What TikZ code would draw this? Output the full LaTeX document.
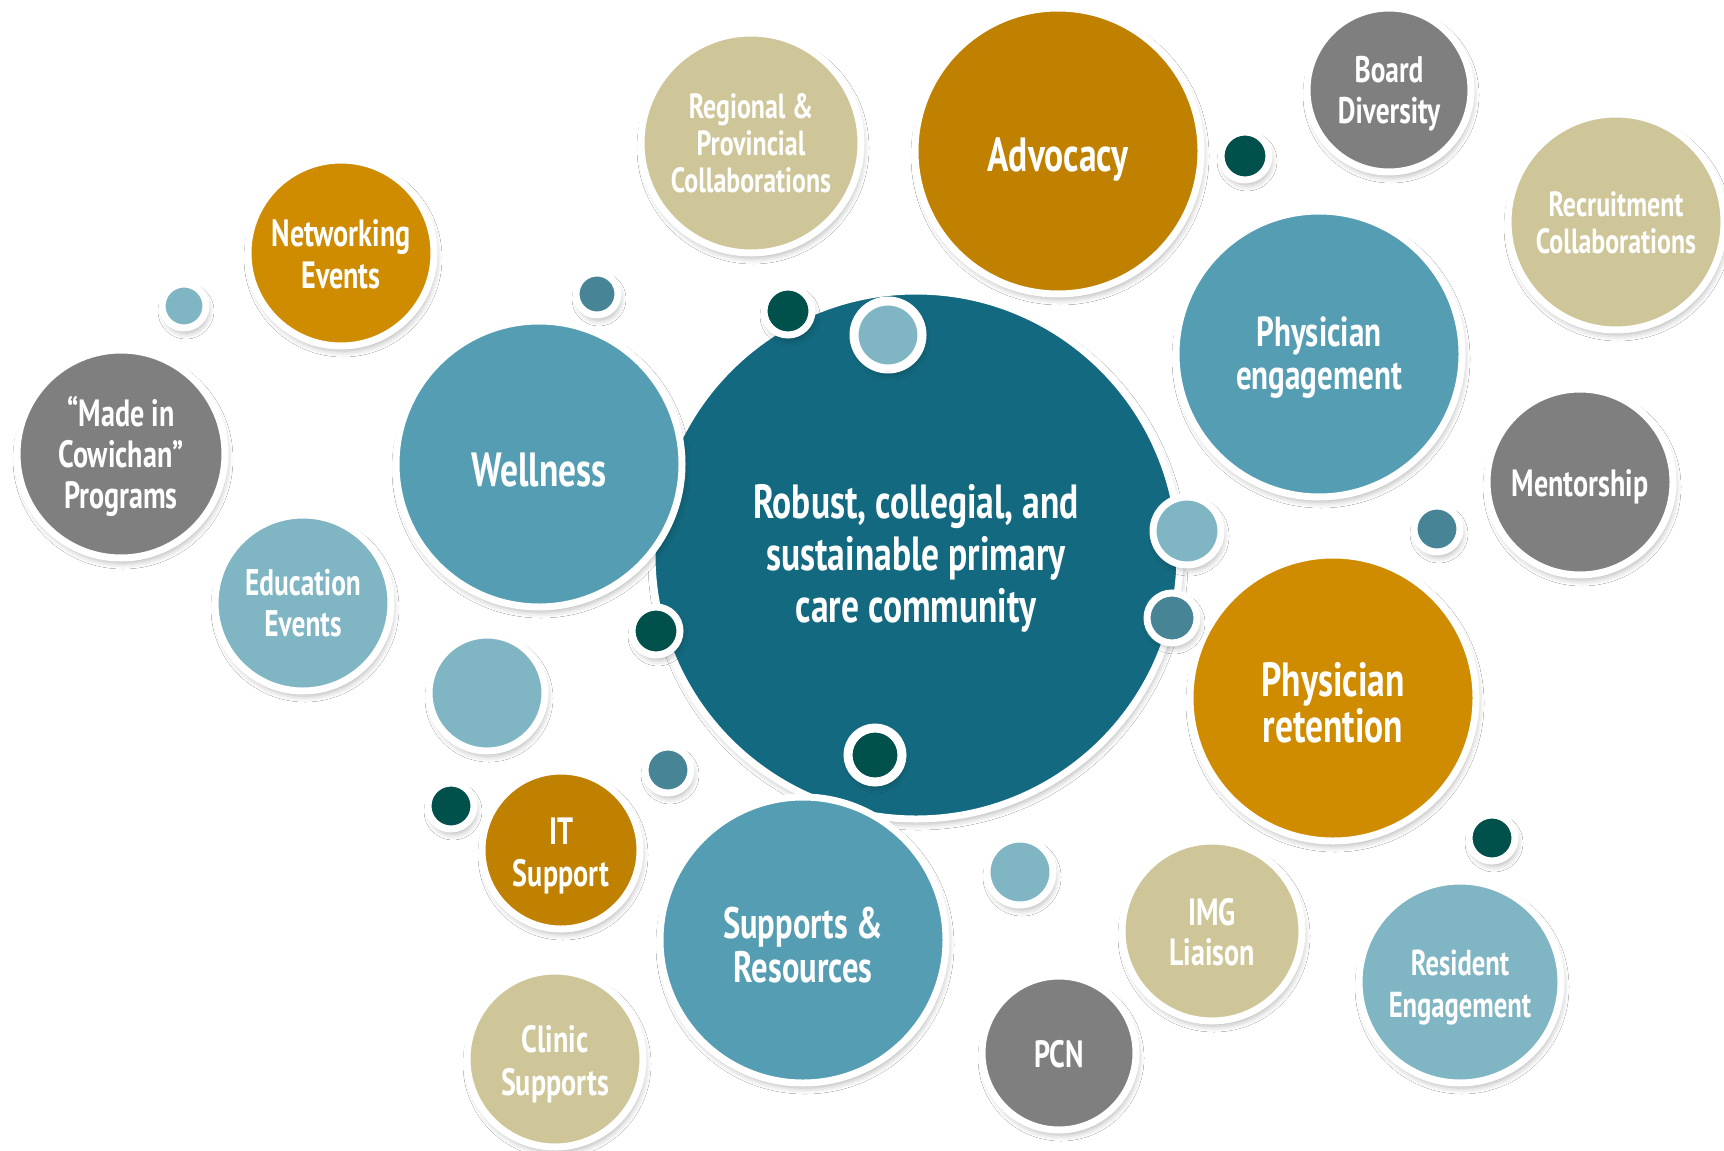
\documentclass[tikz,border=0pt]{standalone}
\usepackage{fontspec}
\setmainfont{PT Sans}[FakeStretch=0.74]
\usetikzlibrary{shadows.blur}
\definecolor{coreblue}{RGB}{19,106,128}
\definecolor{midblue}{RGB}{85,157,178}
\definecolor{lightblue}{RGB}{128,181,196}
\definecolor{golddark}{RGB}{192,128,0}
\definecolor{goldlight}{RGB}{208,140,0}
\definecolor{beige}{RGB}{206,198,153}
\definecolor{greyc}{RGB}{127,127,127}
\definecolor{deepgreen}{RGB}{0,80,76}
\definecolor{dotblue}{RGB}{70,132,150}
\newcommand\fsz[2]{\fontsize{#1}{#2}\selectfont\bfseries}
\tikzset{
  bub/.style={circle, draw=white, line width=7pt, inner sep=0pt,
    blur shadow={shadow xshift=2pt, shadow yshift=-5pt, shadow blur radius=6pt, shadow opacity=30}},
  % r = radius of the circle's outline path
  rad/.style={minimum size={2*#1}},
  txt/.style={text=white, align=center, inner sep=0pt},
}
\begin{document}
\begin{tikzpicture}[x=1pt,y=-1pt]
\useasboundingbox (0,0) rectangle (1724,1151);
\fill[white] (0,0) rectangle (1724,1151);

% central theme
\node[bub, rad=264, fill=coreblue] (core) at (916,555) {};
\node[txt, font=\fsz{48}{52}, yshift=-3pt] (coreT) at (core)
  {Robust, collegial, and\\sustainable primary\\care community};

% main pillars
\node[bub, rad=143, fill=midblue] (wellness) at (539,464) {};
\node[txt, font=\fsz{48}{50}, yshift=-6pt] (wellnessT) at (wellness) {Wellness};
\node[bub, rad=143, fill=golddark] (advocacy) at (1058,151) {};
\node[txt, font=\fsz{48}{50}, yshift=-8pt] (advocacyT) at (advocacy) {Advocacy};
\node[bub, rad=143, fill=midblue] (engage) at (1319,354) {};
\node[txt, font=\fsz{42}{43}, yshift=-4pt] (engageT) at (engage) {Physician\\engagement};
\node[bub, rad=143, fill=goldlight] (retain) at (1333,698) {};
\node[txt, font=\fsz{48}{46}, yshift=-5pt] (retainT) at (retain) {Physician\\retention};
\node[bub, rad=143, fill=midblue] (supports) at (803,940) {};
\node[txt, font=\fsz{44}{44}, yshift=-5pt] (supportsT) at (supports) {Supports \&\\Resources};

% initiatives
\node[bub, rad=110, fill=beige] (regional) at (751,143) {};
\node[txt, font=\fsz{35}{37}] (regionalT) at (regional) {Regional \&\\Provincial\\Collaborations};
\node[bub, rad=93, fill=goldlight] (network) at (341,253) {};
\node[txt, font=\fsz{38}{42}, yshift=-1pt] (networkT) at (network) {Networking\\Events};
\node[bub, rad=104, fill=greyc] (cowichan) at (121,454) {};
\node[txt, font=\fsz{38}{41}, yshift=-2pt] (cowichanT) at (cowichan) {“Made in\\Cowichan”\\Programs};
\node[bub, rad=88, fill=lightblue] (education) at (303,603) {};
\node[txt, font=\fsz{37}{41}] (educationT) at (education) {Education\\Events};
\node[bub, rad=82, fill=greyc] (board) at (1389,90) {};
\node[txt, font=\fsz{37}{41}, yshift=-4pt] (boardT) at (board) {Board\\Diversity};
\node[bub, rad=108, fill=beige] (recruit) at (1616,222) {};
\node[txt, font=\fsz{35}{37}, yshift=-1pt] (recruitT) at (recruit) {Recruitment\\Collaborations};
\node[bub, rad=93, fill=greyc] (mentor) at (1580,482) {};
\node[txt, font=\fsz{38}{40}, yshift=-5pt] (mentorT) at (mentor) {Mentorship};
\node[bub, rad=79, fill=golddark] (itsup) at (561,850) {};
\node[txt, font=\fsz{38}{42}, yshift=-6pt] (itsupT) at (itsup) {IT\\Support};
\node[bub, rad=88, fill=beige] (clinic) at (555,1059) {};
\node[txt, font=\fsz{38}{43}, yshift=-5pt] (clinicT) at (clinic) {Clinic\\Supports};
\node[bub, rad=77, fill=greyc] (pcn) at (1059,1053) {};
\node[txt, font=\fsz{38}{40}, yshift=-1pt] (pcnT) at (pcn) {PCN};
\node[bub, rad=90, fill=beige] (img) at (1212,931) {};
\node[txt, font=\fsz{38}{40}, yshift=-1pt] (imgT) at (img) {IMG\\Liaison};
\node[bub, rad=101, fill=lightblue] (resident) at (1460,982) {};
\node[txt, font=\fsz{36}{42}, yshift=-6pt] (residentT) at (resident) {Resident\\Engagement};

% plain accent circles
\node[bub, rad=58, fill=lightblue] (accA) at (487,693) {};
\node[bub, rad=33, fill=lightblue] (accB) at (1020,872) {};

% small dots
\node[bub, rad=22, fill=lightblue] (dotA) at (184,306) {};
\node[bub, rad=21, fill=dotblue] (dotB) at (597,294) {};
\node[bub, rad=24, fill=deepgreen] (dotC) at (788,311) {};
\node[bub, rad=34, fill=lightblue, line width=9pt] (dotD) at (888,335) {};
\node[bub, rad=24, fill=deepgreen] (dotE) at (1245,156) {};
\node[bub, rad=34, fill=lightblue] (dotF) at (1187,531) {};
\node[bub, rad=25, fill=dotblue] (dotG) at (1172,618) {};
\node[bub, rad=23, fill=dotblue] (dotH) at (1437,529) {};
\node[bub, rad=24, fill=deepgreen] (dotI) at (656,631) {};
\node[bub, rad=27, fill=deepgreen, line width=9pt] (dotJ) at (875,755) {};
\node[bub, rad=23, fill=dotblue] (dotK) at (668,770) {};
\node[bub, rad=23, fill=deepgreen] (dotL) at (451,806) {};
\node[bub, rad=23, fill=deepgreen] (dotM) at (1492,838) {};
\end{tikzpicture}
\end{document}
